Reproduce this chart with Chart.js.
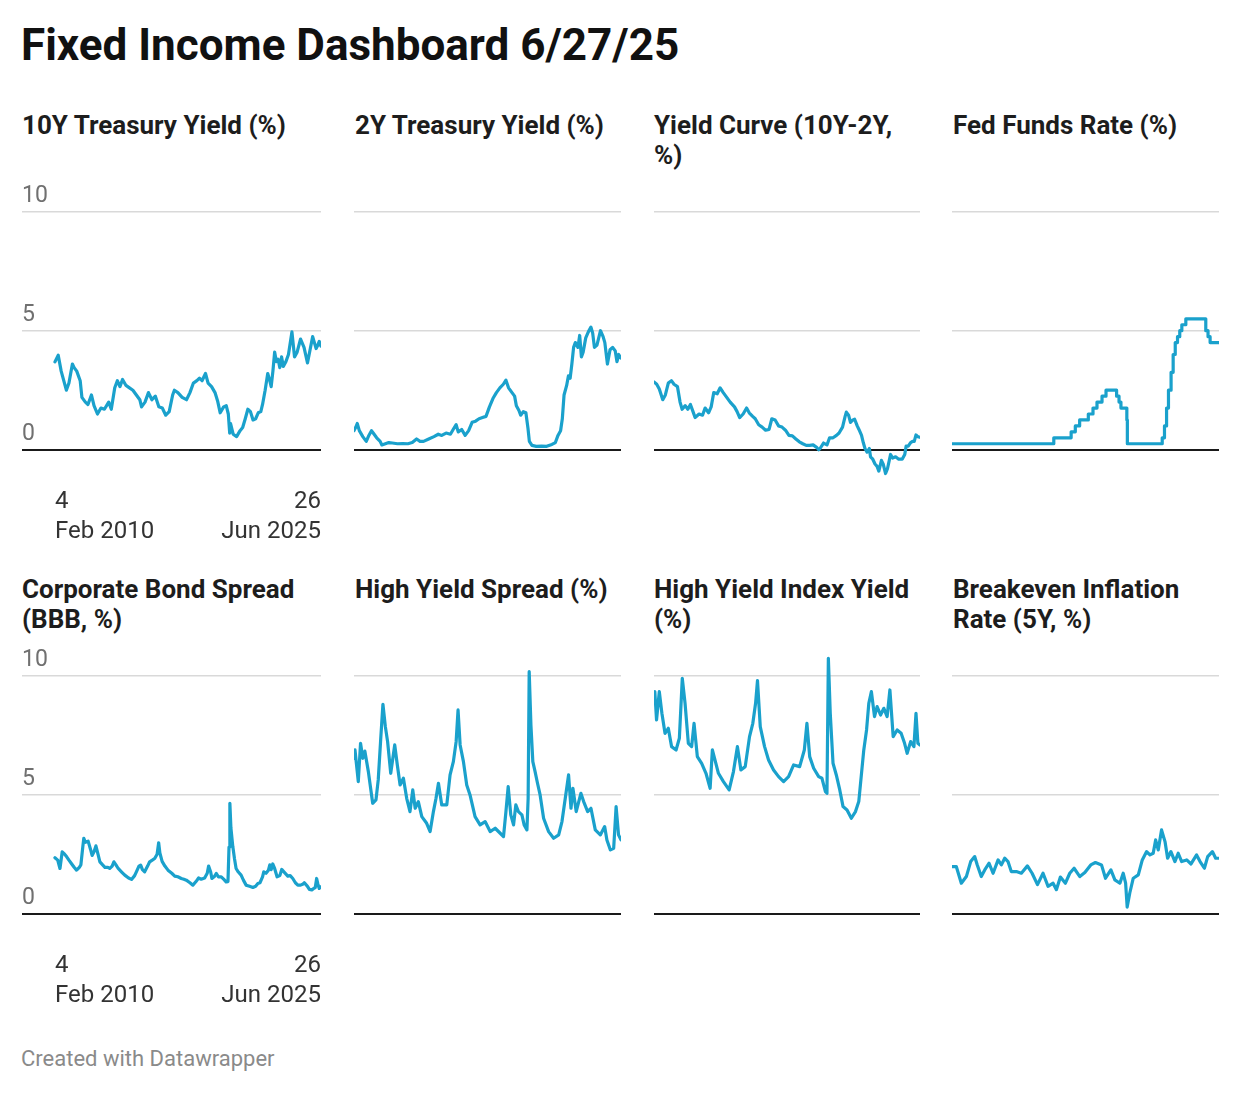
<!DOCTYPE html>
<html>
<head>
<meta charset="utf-8">
<script src="https://cdn.jsdelivr.net/npm/chart.js@4.4.1/dist/chart.umd.min.js"></script>
<style>
body { margin: 0; background: #fff; font-family: Roboto, sans-serif; }
#wrap { position: relative; width: 1240px; height: 1096px; overflow: hidden; }
h1 { position: absolute; left: 21px; top: 20px; margin: 0; font-size: 44px; line-height: 50px; font-weight: 700; color: #111; }
.ttl { position: absolute; font-size: 26px; line-height: 30px; font-weight: 700; color: #1d1d1d; }
canvas { position: absolute; }
#foot { position: absolute; left: 21px; top: 1046px; font-size: 22px; color: #8a8a8a; }
</style>
</head>
<body>
<div id="wrap">
  <h1>Fixed Income Dashboard 6/27/25</h1>
  <div id="foot">Created with Datawrapper</div>
</div>
<script>
// dates are decimal years, 4 Feb 2010 -> 26 Jun 2025
const firstDay = 2010.093;
const lastDay = 2025.482;
const firstLabel = ['4', 'Feb 2010'];
const lastLabel = ['26', 'Jun 2025'];
const yTicks = [0, 5, 10];

// 10Y treasury
const tenDates = [2010.09,2010.28,2010.45,2010.6,2010.75,2010.9,2011.1,2011.2,2011.35,2011.55,2011.65,2011.85,2012.0,2012.2,2012.35,2012.55,2012.75,2012.95,2013.2,2013.35,2013.55,2013.7,2013.85,2014.0,2014.2,2014.4,2014.6,2014.8,2015.0,2015.1,2015.3,2015.5,2015.7,2015.9,2016.1,2016.3,2016.5,2016.7,2016.9,2017.0,2017.2,2017.45,2017.7,2017.9,2018.1,2018.3,2018.45,2018.6,2018.8,2018.95,2019.15,2019.35,2019.5,2019.65,2019.85,2020.0,2020.12,2020.2,2020.25,2020.4,2020.6,2020.8,2020.95,2021.1,2021.25,2021.4,2021.55,2021.7,2021.85,2022.0,2022.1,2022.25,2022.4,2022.5,2022.6,2022.7,2022.8,2022.9,2023.0,2023.1,2023.2,2023.3,2023.45,2023.6,2023.8,2023.95,2024.1,2024.3,2024.5,2024.7,2024.85,2025.0,2025.1,2025.2,2025.3,2025.38,2025.48];
const tenVals = [3.69,3.97,3.3,2.9,2.5,2.8,3.6,3.45,3.3,2.9,2.2,2.0,1.9,2.3,1.85,1.5,1.75,1.7,2.0,1.7,2.6,2.9,2.65,2.95,2.7,2.6,2.5,2.3,2.1,1.8,2.0,2.4,2.1,2.25,1.8,1.75,1.45,1.6,2.3,2.5,2.4,2.2,2.1,2.4,2.8,2.9,3.0,2.9,3.2,2.8,2.65,2.4,2.05,1.55,1.8,1.85,1.5,0.7,1.1,0.65,0.55,0.8,0.93,1.3,1.7,1.6,1.25,1.3,1.55,1.6,1.9,2.5,3.2,2.95,2.65,3.3,4.1,3.7,3.8,3.45,3.9,3.5,3.7,4.0,4.95,3.9,4.1,4.65,4.3,3.65,4.2,4.75,4.5,4.25,4.4,4.55,4.35];

// 2Y treasury
const twoDates = [2010.09,2010.2,2010.28,2010.4,2010.6,2010.8,2010.95,2011.1,2011.2,2011.4,2011.6,2011.7,2011.9,2012.1,2012.3,2012.6,2012.9,2013.2,2013.45,2013.7,2013.9,2014.1,2014.4,2014.7,2014.95,2015.15,2015.4,2015.65,2015.85,2015.98,2016.1,2016.3,2016.5,2016.7,2016.9,2017.1,2017.3,2017.5,2017.7,2017.9,2018.1,2018.3,2018.5,2018.7,2018.85,2019.0,2019.2,2019.35,2019.45,2019.6,2019.7,2019.85,2020.0,2020.12,2020.2,2020.35,2020.6,2020.9,2021.2,2021.5,2021.7,2021.85,2022.0,2022.1,2022.2,2022.35,2022.45,2022.55,2022.65,2022.75,2022.85,2023.0,2023.1,2023.2,2023.3,2023.45,2023.6,2023.75,2023.85,2023.95,2024.1,2024.3,2024.45,2024.55,2024.7,2024.85,2025.0,2025.15,2025.25,2025.35,2025.48];
const twoVals = [0.8,0.95,1.1,0.8,0.55,0.35,0.6,0.8,0.7,0.5,0.35,0.2,0.25,0.3,0.28,0.25,0.26,0.25,0.3,0.45,0.35,0.35,0.45,0.55,0.65,0.6,0.7,0.65,0.9,1.05,0.75,0.85,0.6,0.8,1.15,1.2,1.3,1.35,1.4,1.8,2.15,2.4,2.6,2.75,2.92,2.6,2.4,2.25,1.85,1.65,1.45,1.6,1.55,0.9,0.35,0.18,0.14,0.15,0.14,0.22,0.3,0.6,0.8,1.3,2.3,2.7,3.1,3.0,3.6,4.3,4.5,4.3,4.8,3.9,4.1,4.7,4.95,5.15,4.9,4.3,4.4,5.0,4.75,4.5,3.6,4.2,4.3,4.15,3.7,4.0,3.85];

// 10Y minus 2Y
const curveDates = [2010.09,2010.25,2010.4,2010.6,2010.75,2010.92,2011.1,2011.25,2011.45,2011.6,2011.72,2011.9,2012.05,2012.2,2012.35,2012.47,2012.7,2012.9,2013.05,2013.25,2013.4,2013.55,2013.75,2013.92,2014.1,2014.3,2014.5,2014.75,2014.9,2015.05,2015.25,2015.45,2015.6,2015.8,2015.95,2016.15,2016.35,2016.55,2016.75,2016.91,2017.1,2017.3,2017.5,2017.7,2017.9,2018.1,2018.3,2018.5,2018.7,2018.9,2019.1,2019.3,2019.5,2019.62,2019.7,2019.9,2020.1,2020.25,2020.45,2020.65,2020.8,2021.0,2021.15,2021.22,2021.35,2021.46,2021.6,2021.7,2021.85,2021.95,2022.1,2022.2,2022.3,2022.42,2022.55,2022.62,2022.75,2022.88,2023.0,2023.1,2023.25,2023.35,2023.49,2023.6,2023.78,2023.9,2024.07,2024.25,2024.45,2024.6,2024.68,2024.8,2024.94,2025.05,2025.15,2025.25,2025.35,2025.48];
const curveVals = [2.85,2.75,2.55,2.1,2.3,2.8,2.9,2.75,2.65,2.0,1.7,1.85,1.7,1.9,1.6,1.35,1.5,1.45,1.75,1.55,1.8,2.4,2.35,2.6,2.4,2.2,2.0,1.8,1.6,1.35,1.5,1.75,1.55,1.4,1.3,1.05,0.95,0.82,0.85,1.3,1.25,1.0,0.95,0.82,0.6,0.58,0.45,0.33,0.25,0.18,0.18,0.2,0.1,0.0,0.05,0.28,0.2,0.5,0.5,0.6,0.7,0.95,1.4,1.58,1.45,1.15,1.25,1.28,1.0,0.85,0.6,0.3,0.05,-0.1,0.05,-0.3,-0.4,-0.6,-0.7,-0.9,-0.45,-0.6,-1.0,-0.8,-0.2,-0.35,-0.3,-0.4,-0.4,-0.2,0.15,0.15,0.3,0.35,0.35,0.62,0.55,0.52];

// fed funds target, upper bound, change dates
const fedDates = [2010.09,2015.96,2016.96,2017.2,2017.45,2017.95,2018.22,2018.45,2018.74,2018.97,2019.58,2019.72,2019.83,2020.17,2020.2,2022.21,2022.34,2022.46,2022.57,2022.72,2022.84,2022.96,2023.09,2023.22,2023.34,2023.57,2024.72,2024.85,2024.97,2025.48];
const fedVals = [0.25,0.5,0.75,1.0,1.25,1.5,1.75,2.0,2.25,2.5,2.25,2.0,1.75,1.25,0.25,0.5,1.0,1.75,2.5,3.25,4.0,4.5,4.75,5.0,5.25,5.5,5.0,4.75,4.5,4.5];

// BBB corporate spread
const bbbDates = [2010.09,2010.25,2010.38,2010.51,2010.65,2010.76,2010.9,2011.05,2011.2,2011.34,2011.5,2011.59,2011.7,2011.76,2011.85,2012.01,2012.15,2012.24,2012.35,2012.46,2012.58,2012.69,2012.85,2012.98,2013.15,2013.26,2013.4,2013.5,2013.62,2013.75,2013.95,2014.13,2014.35,2014.52,2014.7,2014.8,2014.95,2015.05,2015.15,2015.28,2015.45,2015.57,2015.72,2015.86,2016.0,2016.09,2016.16,2016.29,2016.45,2016.63,2016.85,2017.02,2017.2,2017.4,2017.55,2017.69,2017.9,2018.07,2018.25,2018.4,2018.55,2018.75,2018.9,2018.98,2019.1,2019.17,2019.3,2019.42,2019.55,2019.71,2019.85,2019.99,2020.1,2020.16,2020.21,2020.27,2020.38,2020.48,2020.57,2020.7,2020.86,2021.0,2021.15,2021.35,2021.54,2021.7,2021.83,2021.95,2022.1,2022.17,2022.3,2022.44,2022.52,2022.6,2022.69,2022.8,2022.94,2023.1,2023.21,2023.35,2023.56,2023.7,2023.85,2024.0,2024.14,2024.3,2024.45,2024.52,2024.7,2024.81,2024.95,2025.06,2025.15,2025.23,2025.3,2025.38,2025.48];
const bbbVals = [2.35,2.25,1.9,2.6,2.5,2.4,2.25,2.1,1.95,1.83,1.95,2.05,2.8,3.17,3.0,3.05,2.7,2.45,2.6,2.85,2.5,2.18,2.05,1.95,1.95,1.9,2.0,2.18,2.05,1.9,1.75,1.62,1.5,1.44,1.6,1.76,2.0,2.04,1.85,1.76,2.0,2.18,2.25,2.32,2.5,2.98,2.55,2.2,2.0,1.83,1.7,1.58,1.55,1.48,1.45,1.41,1.3,1.2,1.35,1.5,1.45,1.5,1.7,2.0,1.75,1.48,1.55,1.69,1.55,1.55,1.45,1.34,1.35,2.8,4.64,3.6,2.82,2.3,1.9,1.75,1.62,1.4,1.2,1.15,1.1,1.15,1.27,1.3,1.55,1.76,1.7,1.83,2.05,1.85,2.09,1.9,1.55,1.6,1.86,1.75,1.58,1.6,1.48,1.3,1.2,1.2,1.25,1.3,1.15,1.02,1.0,1.06,1.1,1.48,1.25,1.06,1.13];

// high yield spread
const hysDates = [2010.09,2010.15,2010.34,2010.47,2010.6,2010.72,2010.92,2011.17,2011.36,2011.49,2011.63,2011.76,2011.9,2012.03,2012.21,2012.44,2012.59,2012.75,2012.94,2013.13,2013.32,2013.48,2013.62,2013.8,2014.0,2014.28,2014.48,2014.67,2014.82,2014.96,2015.15,2015.44,2015.63,2015.82,2015.98,2016.09,2016.21,2016.4,2016.59,2016.78,2017.07,2017.36,2017.65,2017.94,2018.23,2018.52,2018.71,2018.85,2018.98,2019.13,2019.29,2019.42,2019.57,2019.77,2019.9,2020.06,2020.13,2020.19,2020.29,2020.4,2020.53,2020.67,2020.82,2021.02,2021.31,2021.6,2021.89,2022.08,2022.27,2022.46,2022.6,2022.71,2022.9,2023.17,2023.33,2023.56,2023.75,2024.0,2024.29,2024.54,2024.67,2024.87,2025.06,2025.2,2025.34,2025.48];
const hysVals = [6.53,6.88,5.55,7.16,6.53,6.83,5.97,4.64,4.78,5.62,7.3,8.8,7.86,7.23,5.9,7.09,6.25,5.41,5.69,4.85,4.29,5.2,4.43,4.71,4.08,3.8,3.45,4.29,4.85,5.48,4.57,4.57,5.83,6.39,7.23,8.56,7.09,6.39,5.41,4.99,4.08,3.73,3.87,3.45,3.59,3.38,3.24,4.29,5.34,4.15,3.73,4.57,4.29,4.15,3.73,3.52,4.85,10.17,7.93,6.39,5.97,5.48,4.99,4.01,3.45,3.17,3.31,3.87,4.85,5.83,4.43,5.27,4.29,5.06,4.71,4.29,4.43,3.52,3.31,3.66,3.1,2.68,2.75,4.5,3.31,3.1];

// high yield index effective yield
const hyyDates = [2010.09,2010.14,2010.24,2010.4,2010.55,2010.73,2010.92,2011.11,2011.37,2011.56,2011.73,2011.89,2012.08,2012.27,2012.41,2012.6,2012.85,2013.1,2013.34,2013.47,2013.62,2013.82,2014.11,2014.44,2014.69,2014.92,2015.12,2015.37,2015.62,2015.81,2015.97,2016.08,2016.24,2016.49,2016.72,2017.01,2017.3,2017.59,2017.88,2018.17,2018.52,2018.79,2018.94,2019.1,2019.33,2019.62,2019.81,2020.01,2020.1,2020.18,2020.29,2020.45,2020.64,2020.84,2021.03,2021.26,2021.51,2021.75,2021.94,2022.08,2022.23,2022.39,2022.52,2022.67,2022.85,2023.0,2023.2,2023.39,2023.58,2023.74,2023.93,2024.16,2024.39,2024.59,2024.74,2024.94,2025.13,2025.25,2025.36,2025.48];
const hyyVals = [8.98,9.33,8.14,9.33,8.42,7.58,7.79,7.02,6.88,7.37,9.89,8.84,7.16,7.02,8.0,6.6,6.32,5.9,5.27,6.88,6.46,5.9,5.55,5.2,5.97,7.02,6.04,6.18,7.44,8.0,8.84,9.79,7.86,7.02,6.46,6.04,5.76,5.55,5.76,6.25,6.18,6.88,8.0,6.6,6.11,5.76,5.69,5.13,5.06,10.73,8.42,6.32,5.83,5.2,4.5,4.36,4.01,4.29,4.71,5.76,6.88,7.72,8.84,9.33,8.28,8.7,8.35,8.63,8.28,9.4,7.44,7.72,7.58,7.16,6.74,7.23,7.02,8.42,7.16,7.09];

// 5Y breakeven inflation
const beDates = [2010.09,2010.34,2010.63,2010.92,2011.17,2011.4,2011.55,2011.78,2011.98,2012.23,2012.46,2012.75,2012.94,2013.13,2013.32,2013.51,2013.8,2014.09,2014.44,2014.71,2015.02,2015.34,2015.63,2015.92,2016.11,2016.34,2016.63,2016.88,2017.13,2017.46,2017.75,2018.09,2018.36,2018.71,2018.94,2019.25,2019.48,2019.77,2019.96,2020.1,2020.19,2020.34,2020.54,2020.83,2021.06,2021.31,2021.5,2021.69,2021.83,2021.98,2022.17,2022.37,2022.52,2022.71,2022.94,2023.13,2023.33,2023.62,2023.87,2024.19,2024.39,2024.64,2024.83,2025.1,2025.29,2025.48];
const beVals = [1.98,1.98,1.28,1.56,2.19,2.4,2.05,1.56,1.84,2.12,1.7,2.26,2.05,2.33,2.19,1.77,1.77,1.7,2.01,1.7,1.22,1.7,1.15,1.28,1.01,1.54,1.28,1.7,1.91,1.56,1.73,2.05,2.15,2.05,1.49,1.84,1.42,1.28,1.7,1.28,0.28,0.87,1.49,1.63,2.26,2.61,2.47,2.54,3.1,2.68,3.52,3.03,2.33,2.61,2.19,2.54,2.19,2.26,2.09,2.47,2.19,1.91,2.4,2.61,2.33,2.33];

const panels = [
  { title: '10Y Treasury Yield (%)', dates: tenDates, vals: tenVals, col: 0, row: 0 },
  { title: '2Y Treasury Yield (%)', dates: twoDates, vals: twoVals, col: 1, row: 0 },
  { title: 'Yield Curve (10Y-2Y, %)', dates: curveDates, vals: curveVals, col: 2, row: 0 },
  { title: 'Fed Funds Rate (%)', dates: fedDates, vals: fedVals, col: 3, row: 0, stepped: true },
  { title: 'Corporate Bond Spread (BBB, %)', dates: bbbDates, vals: bbbVals, col: 0, row: 1 },
  { title: 'High Yield Spread (%)', dates: hysDates, vals: hysVals, col: 1, row: 1 },
  { title: 'High Yield Index Yield (%)', dates: hyyDates, vals: hyyVals, col: 2, row: 1 },
  { title: 'Breakeven Inflation Rate (5Y, %)', dates: beDates, vals: beVals, col: 3, row: 1 }
];

// layout, 23.8px per percentage point
const colLeft = [22, 354, 654, 952];
const colWidth = [299, 267, 266, 267];
const colTitleLeft = [22, 355, 654, 953];
const rowTop = [176, 640];
const rowTitleTop = [110, 574];
const axisH = 80;
const plotH = 303;
const yMax = 11.5;
const yMin = yMax - plotH / 23.8;

Chart.defaults.font.family = 'Roboto';

const wrap = document.getElementById('wrap');

panels.forEach((p) => {
  const first = p.col === 0;

  const t = document.createElement('div');
  t.className = 'ttl';
  t.style.left = colTitleLeft[p.col] + 'px';
  t.style.top = rowTitleTop[p.row] + 'px';
  t.style.width = (first ? 300 : 266) + 'px';
  t.textContent = p.title;
  wrap.appendChild(t);

  const c = document.createElement('canvas');
  c.width = colWidth[p.col];
  c.height = plotH + axisH;
  c.style.left = colLeft[p.col] + 'px';
  c.style.top = rowTop[p.row] + 'px';
  wrap.appendChild(c);

  // first column leaves 33px of room for the y labels on the left
  const xmin = first ? lastDay - (lastDay - firstDay) * colWidth[0] / 266 : firstDay;

  new Chart(c.getContext('2d'), {
    type: 'line',
    data: {
      datasets: [{
        data: p.dates.map((d, i) => ({ x: d, y: p.vals[i] })),
        borderColor: '#1aa1cc',
        borderWidth: 3.2,
        pointRadius: 0,
        tension: 0,
        stepped: p.stepped ? true : false,
        borderJoinStyle: 'round',
        borderCapStyle: 'round'
      }]
    },
    options: {
      responsive: false,
      animation: false,
      events: [],
      layout: { padding: 0 },
      plugins: { legend: { display: false }, tooltip: { enabled: false } },
      scales: {
        x: {
          type: 'linear',
          min: xmin,
          max: lastDay,
          grid: { display: false },
          border: { display: false },
          afterBuildTicks: (s) => { s.ticks = [{ value: firstDay }, { value: lastDay }]; },
          afterFit: (s) => { s.height = axisH; s.paddingLeft = 0; s.paddingRight = 0; },
          ticks: {
            display: first,
            align: 'inner',
            padding: 0,
            maxRotation: 0,
            autoSkip: false,
            color: '#333',
            font: { size: 24, lineHeight: 1.25 },
            callback: (v, i) => (i === 0 ? firstLabel : lastLabel)
          }
        },
        y: {
          min: yMin,
          max: yMax,
          afterBuildTicks: (s) => { s.ticks = yTicks.map((v) => ({ value: v })); },
          afterFit: (s) => { s.width = 0; s.paddingTop = 0; s.paddingBottom = 0; },
          border: { display: false },
          grid: {
            drawTicks: false,
            color: (ctx) => (ctx.tick && ctx.tick.value === 0 ? '#1a1a1a' : '#d9d9d9'),
            lineWidth: (ctx) => (ctx.tick && ctx.tick.value === 0 ? 2 : 1.5)
          },
          ticks: {
            display: first,
            mirror: true,
            padding: 0,
            labelOffset: -15,
            color: '#707070',
            font: { size: 23 }
          }
        }
      }
    }
  });
});
</script>
</body>
</html>
